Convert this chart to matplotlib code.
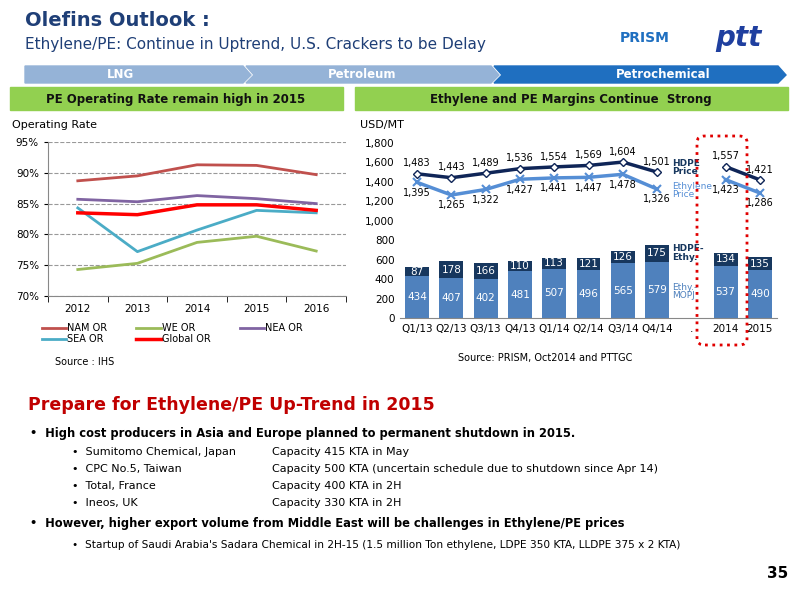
import matplotlib
matplotlib.use("Agg")
import matplotlib.pyplot as plt
import numpy as np
from matplotlib.patches import Rectangle, Polygon, FancyBboxPatch

years = ["2012", "2013", "2014", "2015", "2016"]
nam = [88.7, 89.5, 91.3, 91.2, 89.7]
we = [74.3, 75.3, 78.7, 79.7, 77.3]
nea = [85.7, 85.3, 86.3, 85.8, 85.0]
sea = [84.3, 77.2, 80.7, 83.9, 83.5]
glob = [83.5, 83.2, 84.8, 84.8, 83.9]

cats = ["Q1/13", "Q2/13", "Q3/13", "Q4/13", "Q1/14", "Q2/14", "Q3/14", "Q4/14", ".", "2014", "2015"]
ethy_mopj = [434, 407, 402, 481, 507, 496, 565, 579, np.nan, 537, 490]
hdpe_ethy = [87, 178, 166, 110, 113, 121, 126, 175, np.nan, 134, 135]
hdpe_price = [1483, 1443, 1489, 1536, 1554, 1569, 1604, 1501, np.nan, 1557, 1421]
ethy_price = [1395, 1265, 1322, 1427, 1441, 1447, 1478, 1326, np.nan, 1423, 1286]

W, H = 800, 600
fig = plt.figure(figsize=(8, 6), dpi=100)
plt.rcParams['font.family'] = ['DejaVu Sans']

def fx(x): return x / W
def fy(y): return 1 - y / H
def rect(x0, y0, x1, y1, **kw):
    fig.patches.append(Rectangle((fx(x0), fy(y1)), fx(x1 - x0), (y1 - y0) / H, transform=fig.transFigure, **kw))
def txt(x, y, s, **kw):
    fig.text(fx(x), fy(y), s, **kw)

# header
txt(25, 20, "Olefins Outlook :", fontsize=14, fontweight='bold', color='#1f3f77', va='center')
txt(25, 45, "Ethylene/PE: Continue in Uptrend, U.S. Crackers to be Delay", fontsize=11, color='#1f3f77', va='center')
txt(620, 38, "PRISM", fontsize=10, fontweight='bold', color='#1f6fc0', va='center')
txt(715, 38, "ptt", fontsize=20, fontweight='bold', style='italic', color='#1f3f9f', va='center')

# arrows
def arrow(x0, x1, col, tip=8):
    pts = [(x0, 66), (x1, 66), (x1 + tip, 75), (x1, 83), (x0, 83)]
    if x0 > 30:
        pts.append((x0 + tip, 75))
    fig.patches.append(Polygon([(fx(a), fy(b)) for a, b in pts], closed=True, transform=fig.transFigure, color=col))
arrow(25, 243, '#95b3d7')
arrow(246, 491, '#95b3d7')
arrow(494, 778, '#1f6fc0')
txt(120, 75, "LNG", fontsize=8.5, fontweight='bold', color='white', ha='center', va='center')
txt(362, 75, "Petroleum", fontsize=8.5, fontweight='bold', color='white', ha='center', va='center')
txt(663, 75, "Petrochemical", fontsize=8.5, fontweight='bold', color='white', ha='center', va='center')

rect(10, 87, 343, 110, color='#92d050')
rect(355, 87, 788, 110, color='#92d050')
txt(176, 99, "PE Operating Rate remain high in 2015", fontsize=8.5, fontweight='bold', color='#111', ha='center', va='center')
txt(571, 99, "Ethylene and PE Margins Continue  Strong", fontsize=8.5, fontweight='bold', color='#111', ha='center', va='center')

# left chart
axL = fig.add_axes([fx(48), fy(296), fx(346 - 48), (296 - 142) / H])
x = np.arange(len(years))
series = [(nam, '#c0504d', 'NAM OR', 2), (sea, '#4bacc6', 'SEA OR', 2), (we, '#9bbb59', 'WE OR', 2),
          (glob, '#ff0000', 'Global OR', 2.5), (nea, '#8064a2', 'NEA OR', 2)]
for v, c, lab, lw in series:
    axL.plot(x, v, color=c, lw=lw, label=lab)
axL.set_xlim(-0.5, 4.5)
axL.set_ylim(70, 95)
axL.set_yticks([70, 75, 80, 85, 90, 95])
axL.set_yticklabels([f"{t}%" for t in [70, 75, 80, 85, 90, 95]], fontsize=7.5)
axL.set_xticks(x)
axL.set_xticklabels(years, fontsize=7.5)
axL.set_xticks(np.arange(-0.5, 5, 1), minor=True)
axL.tick_params(axis='x', which='major', length=0, pad=6)
axL.tick_params(axis='x', which='minor', length=4)
axL.tick_params(axis='y', length=3)
axL.yaxis.grid(True, ls='--', color='#999', lw=0.8)
for s in ['top', 'right']:
    axL.spines[s].set_visible(False)
axL.spines['left'].set_color('#888'); axL.spines['bottom'].set_color('#888')
axL.legend(loc='upper left', bbox_to_anchor=(-0.05, -0.12), ncol=3, frameon=False, fontsize=7,
           handlelength=2.5, handletextpad=0.1, columnspacing=3.0, labelspacing=0.1)
txt(12, 125, "Operating Rate", fontsize=8, va='center')
txt(55, 362, "Source : IHS", fontsize=7, va='center')

# right chart
axR = fig.add_axes([fx(400), fy(318), fx(777 - 400), (318 - 143) / H])
xr = np.arange(len(cats))
axR.bar(xr, ethy_mopj, width=0.7, color='#4f81bd')
axR.bar(xr, hdpe_ethy, bottom=ethy_mopj, width=0.7, color='#17375e')
for i in xr:
    if not np.isnan(ethy_mopj[i]):
        axR.text(i, ethy_mopj[i] / 2, f"{int(ethy_mopj[i])}", ha='center', va='center', color='white', fontsize=7.5)
        axR.text(i, ethy_mopj[i] + hdpe_ethy[i] / 2, f"{int(hdpe_ethy[i])}", ha='center', va='center', color='white', fontsize=7.5)
for seg in [slice(0, 8), slice(9, 11)]:
    axR.plot(xr[seg], ethy_price[seg], color='#558ed5', lw=2.5, marker='x', ms=6, mew=1.5)
    axR.plot(xr[seg], hdpe_price[seg], color='#0f2557', lw=2.5, marker='D', ms=4.5, mfc='white', mec='#0f2557')
for i in xr:
    if not np.isnan(hdpe_price[i]):
        axR.text(i, hdpe_price[i] + 55, f"{int(hdpe_price[i]):,}", ha='center', va='bottom', fontsize=7)
        axR.text(i, ethy_price[i] - 55, f"{int(ethy_price[i]):,}", ha='center', va='top', fontsize=7)
axR.text(7.45, 1550, "HDPE\nPrice", fontsize=6.5, fontweight='bold', color='#17375e', va='center', linespacing=0.9)
axR.text(7.45, 1310, "Ethylene\nPrice", fontsize=6.5, color='#558ed5', va='center', linespacing=0.9)
axR.text(7.45, 670, "HDPE-\nEthy.", fontsize=6.5, fontweight='bold', color='#17375e', va='center', linespacing=0.9)
axR.text(7.45, 270, "Ethy.-\nMOPJ", fontsize=6.5, color='#4f81bd', va='center', linespacing=0.9)
axR.set_xlim(-0.5, 10.5)
axR.set_ylim(0, 1800)
axR.set_yticks(range(0, 1801, 200))
axR.set_yticklabels([f"{t:,}" for t in range(0, 1801, 200)], fontsize=7.5)
axR.set_xticks(xr)
axR.set_xticklabels(cats, fontsize=7.5)
axR.tick_params(length=0, pad=4)
for s in ['top', 'right', 'left']:
    axR.spines[s].set_visible(False)
axR.spines['bottom'].set_color('#888')
txt(360, 125, "USD/MT", fontsize=8, va='center')
txt(458, 358, "Source: PRISM, Oct2014 and PTTGC", fontsize=7, va='center')
fig.patches.append(FancyBboxPatch((fx(697), fy(345)), fx(50), (345 - 136) / H, boxstyle='round,pad=0,rounding_size=0.01',
                                  transform=fig.transFigure, fill=False, ec='#e00000', ls=':', lw=2))

# text section
txt(28, 405, "Prepare for Ethylene/PE Up-Trend in 2015", fontsize=12.5, fontweight='bold', color='#c00000', va='center')
txt(30, 433, "•  High cost producers in Asia and Europe planned to permanent shutdown in 2015.", fontsize=8.3, fontweight='bold', va='center')
items = [("Sumitomo Chemical, Japan", "Capacity 415 KTA in May"),
         ("CPC No.5, Taiwan", "Capacity 500 KTA (uncertain schedule due to shutdown since Apr 14)"),
         ("Total, France", "Capacity 400 KTA in 2H"),
         ("Ineos, UK", "Capacity 330 KTA in 2H")]
for k, (a, b) in enumerate(items):
    y = 452 + k * 17
    txt(72, y, "•  " + a, fontsize=8, va='center')
    txt(272, y, b, fontsize=8, va='center')
txt(30, 523, "•  However, higher export volume from Middle East will be challenges in Ethylene/PE prices", fontsize=8.3, fontweight='bold', va='center')
txt(72, 545, "•  Startup of Saudi Arabia's Sadara Chemical in 2H-15 (1.5 million Ton ethylene, LDPE 350 KTA, LLDPE 375 x 2 KTA)", fontsize=7.6, va='center')
txt(788, 573, "35", fontsize=11, fontweight='bold', ha='right', va='center')

fig.savefig("out.png", dpi=100)
